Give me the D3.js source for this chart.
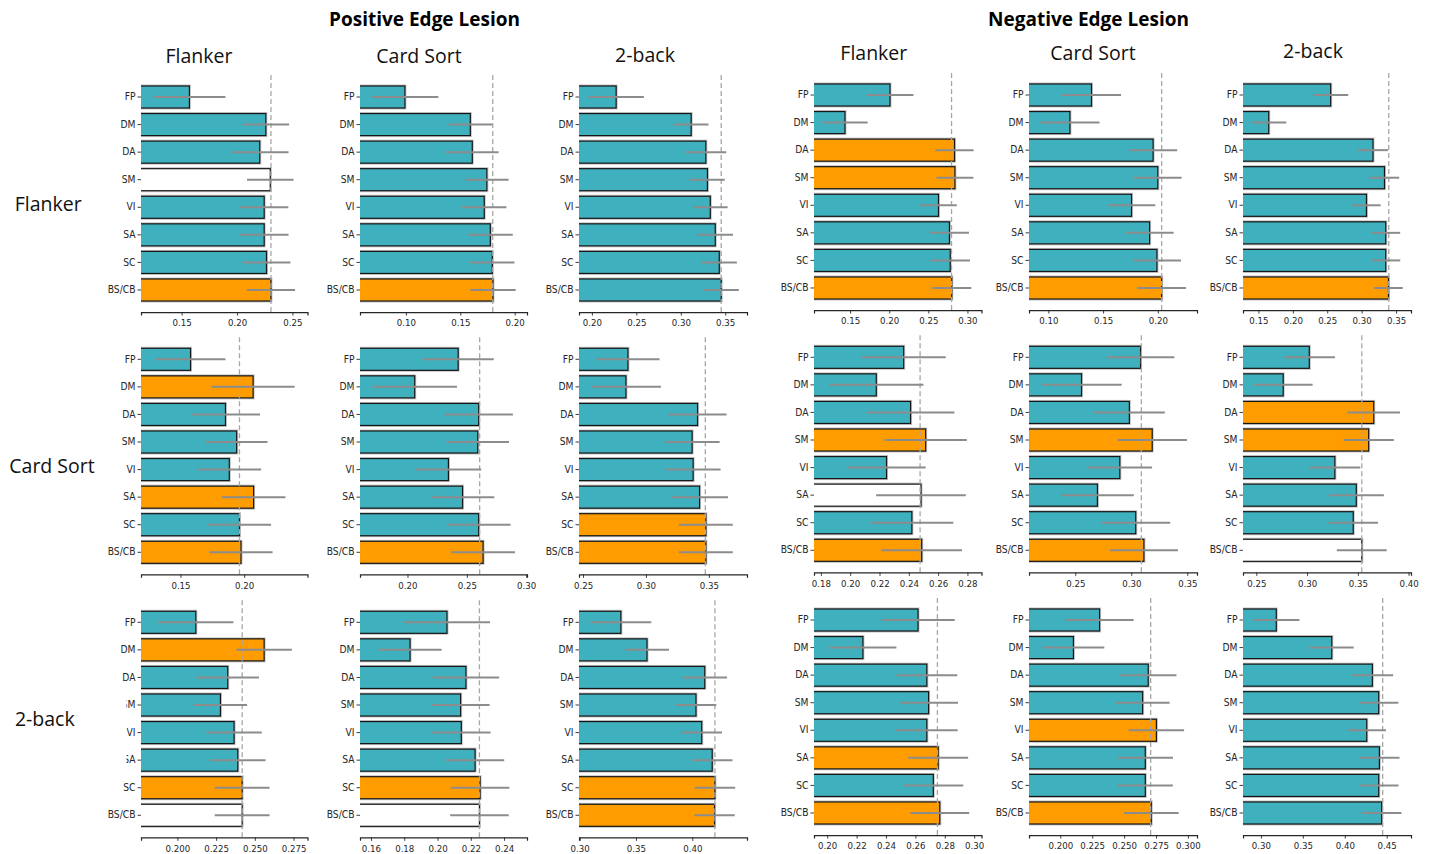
<!DOCTYPE html>
<html>
<head>
<meta charset="utf-8">
<script src="https://cdn.jsdelivr.net/npm/d3@7"></script>
<style>
  html, body { margin: 0; padding: 0; background: #fff; }
  svg { display: block; }
</style>
</head>
<body>
<svg id="chart" width="1429" height="854"></svg>
<script>
// Lesioned networks (y categories) and the three tasks (rows = trained task, columns = tested task)
const networks = ["FP", "DM", "DA", "SM", "VI", "SA", "SC", "BS/CB"];
const tasks = ["Flanker", "Card Sort", "2-back"];
const groupTitles = ["Positive Edge Lesion", "Negative Edge Lesion"];

// ---- Positive edge lesion: mean prediction accuracy per lesioned network [row][col][network]
const posMean = [
  [[0.157, 0.226, 0.2205, 0.230, 0.2245, 0.2245, 0.2266, 0.2306],
   [0.0991, 0.1592, 0.161, 0.1744, 0.172, 0.1776, 0.1794, 0.180],
   [0.2273, 0.3117, 0.3282, 0.330, 0.3332, 0.3388, 0.3433, 0.3455]],
  [[0.1579, 0.207, 0.1853, 0.1941, 0.1883, 0.2074, 0.1963, 0.1975],
   [0.2427, 0.2061, 0.2600, 0.2592, 0.2345, 0.2464, 0.2600, 0.2637],
   [0.2857, 0.2841, 0.341, 0.3367, 0.3375, 0.3426, 0.3476, 0.3476]],
  [[0.2119, 0.256, 0.2325, 0.2278, 0.2366, 0.239, 0.2418, 0.2418],
   [0.2057, 0.1835, 0.2171, 0.2139, 0.2143, 0.2226, 0.2256, 0.2252],
   [0.3366, 0.3598, 0.4111, 0.4033, 0.4084, 0.4177, 0.4201, 0.4198]]
];
// half-width of the confidence interval
const posCI = [
  [[0.0325, 0.021, 0.026, 0.021, 0.0218, 0.022, 0.0216, 0.0218],
   [0.0307, 0.020, 0.0242, 0.020, 0.0204, 0.0206, 0.0204, 0.0209],
   [0.0312, 0.0195, 0.023, 0.0195, 0.0195, 0.020, 0.0198, 0.0198]],
  [[0.0274, 0.0326, 0.0271, 0.0242, 0.025, 0.025, 0.0248, 0.0248],
   [0.030, 0.0356, 0.0288, 0.0263, 0.0276, 0.0267, 0.0269, 0.0269],
   [0.0251, 0.0278, 0.0231, 0.0218, 0.0218, 0.0226, 0.0214, 0.0214]],
  [[0.0243, 0.0179, 0.0202, 0.0172, 0.0179, 0.0179, 0.0177, 0.0177],
   [0.0259, 0.019, 0.020, 0.0174, 0.0176, 0.0175, 0.0176, 0.0176],
   [0.027, 0.0195, 0.0198, 0.018, 0.018, 0.018, 0.018, 0.0179]]
];
// bar status: T = lower than full model, O = not lower, W = equal to full model
const posStatus = [
  [["T","T","T","W","T","T","T","O"], ["T","T","T","T","T","T","T","O"], ["T","T","T","T","T","T","T","T"]],
  [["T","O","T","T","T","O","T","O"], ["T","T","T","T","T","T","T","O"], ["T","T","T","T","T","T","O","O"]],
  [["T","O","T","T","T","T","O","W"], ["T","T","T","T","T","T","O","W"], ["T","T","T","T","T","T","O","O"]]
];
// full-model accuracy (dashed reference line)
const posBaseline = [
  [0.2306, 0.1798, 0.3455],
  [0.1963, 0.2608, 0.3472],
  [0.2418, 0.2252, 0.4201]
];
const posXLim = [
  [[0.1133, 0.2636], [0.0578, 0.2113], [0.1855, 0.3745]],
  [[0.119, 0.2497], [0.160, 0.3007], [0.2468, 0.3803]],
  [[0.1765, 0.284], [0.1534, 0.2538], [0.2994, 0.4486]]
];
const posTicks = [
  [["0.15", "0.20", "0.25"], ["0.10", "0.15", "0.20"], ["0.20", "0.25", "0.30", "0.35"]],
  [["0.15", "0.20"], ["0.20", "0.25", "0.30"], ["0.25", "0.30", "0.35"]],
  [["0.200", "0.225", "0.250", "0.275"], ["0.16", "0.18", "0.20", "0.22", "0.24"], ["0.30", "0.35", "0.40"]]
];

// ---- Negative edge lesion
const negMean = [
  [[0.201, 0.1434, 0.2835, 0.284, 0.263, 0.277, 0.278, 0.280],
   [0.1394, 0.1197, 0.1957, 0.200, 0.176, 0.1925, 0.1992, 0.2035],
   [0.255, 0.165, 0.3165, 0.3332, 0.307, 0.335, 0.335, 0.339]],
  [[0.2365, 0.2178, 0.2412, 0.2515, 0.2248, 0.2483, 0.2421, 0.2488],
   [0.3083, 0.2556, 0.2983, 0.3187, 0.2898, 0.2698, 0.3040, 0.3113],
   [0.3022, 0.2765, 0.3657, 0.3607, 0.3274, 0.3485, 0.3455, 0.3539]],
  [[0.2618, 0.2243, 0.2678, 0.269, 0.2678, 0.2755, 0.2722, 0.2766],
   [0.2308, 0.2103, 0.2689, 0.2645, 0.2753, 0.2666, 0.2666, 0.2713],
   [0.3183, 0.3845, 0.4329, 0.4405, 0.4262, 0.4413, 0.4405, 0.444]]
];
const negCI = [
  [[0.030, 0.029, 0.0245, 0.0236, 0.0234, 0.025, 0.0253, 0.025],
   [0.027, 0.027, 0.022, 0.0218, 0.0217, 0.022, 0.022, 0.0222],
   [0.0255, 0.0255, 0.0217, 0.0214, 0.0205, 0.021, 0.0211, 0.0208]],
  [[0.0287, 0.0322, 0.0299, 0.0281, 0.0267, 0.0306, 0.0283, 0.0275],
   [0.0302, 0.0358, 0.0317, 0.031, 0.0288, 0.0325, 0.0308, 0.0304],
   [0.0253, 0.029, 0.0259, 0.0248, 0.025, 0.0272, 0.0244, 0.0246]],
  [[0.025, 0.0228, 0.0207, 0.020, 0.021, 0.0204, 0.0204, 0.020],
   [0.0267, 0.0242, 0.0221, 0.0212, 0.0217, 0.0217, 0.0216, 0.0214],
   [0.0276, 0.0262, 0.0248, 0.0234, 0.023, 0.024, 0.0236, 0.0236]]
];
const negStatus = [
  [["T","T","O","O","T","T","T","O"], ["T","T","T","T","T","T","T","O"], ["T","T","T","T","T","T","T","O"]],
  [["T","T","T","O","T","W","T","O"], ["T","T","T","O","T","T","T","O"], ["T","T","O","O","T","T","T","W"]],
  [["T","T","T","T","T","O","T","O"], ["T","T","T","T","O","T","T","O"], ["T","T","T","T","T","T","T","T"]]
];
const negBaseline = [
  [0.2797, 0.2035, 0.3394],
  [0.2477, 0.309, 0.3539],
  [0.275, 0.2708, 0.4452]
];
const negXLim = [
  [[0.1038, 0.318], [0.0823, 0.2358], [0.1276, 0.3717]],
  [[0.1753, 0.2896], [0.2087, 0.3587], [0.2369, 0.4024]],
  [[0.191, 0.305], [0.1755, 0.3071], [0.2786, 0.479]]
];
const negTicks = [
  [["0.15", "0.20", "0.25", "0.30"], ["0.10", "0.15", "0.20"], ["0.15", "0.20", "0.25", "0.30", "0.35"]],
  [["0.18", "0.20", "0.22", "0.24", "0.26", "0.28"], ["0.25", "0.30", "0.35"], ["0.25", "0.30", "0.35", "0.40"]],
  [["0.20", "0.22", "0.24", "0.26", "0.28", "0.30"], ["0.200", "0.225", "0.250", "0.275", "0.300"], ["0.30", "0.35", "0.40", "0.45"]]
];

// ---------------------------------------------------------------- drawing
const fillFor = { T: "#3fb0be", O: "#ff9d00", W: "#ffffff" };
const tickFont = "'DejaVu Sans', 'Liberation Sans', sans-serif";
const titleFont = "'Open Sans', 'Noto Sans', sans-serif";

const svg = d3.select("#chart");
const defs = svg.append("defs");

// panel geometry for the two halves of the figure
const layout = [
  { mean: posMean, ci: posCI, status: posStatus, base: posBaseline, xlim: posXLim, ticks: posTicks,
    left: [141, 360, 579], right: [307.5, 527, 747], firstY: [97, 359.3, 622.3],
    colTitleX: [199, 419, 645], colTitleY: [63, 63, 61.7], titleX: 424.5 },
  { mean: negMean, ci: negCI, status: negStatus, base: negBaseline, xlim: negXLim, ticks: negTicks,
    left: [814, 1029, 1243], right: [981.5, 1197, 1411], firstY: [95, 357.3, 620],
    colTitleX: [873.8, 1093, 1313], colTitleY: [60, 60, 58.3], titleX: 1088.5 }
];
const step = 27.57;

layout.forEach((G, gi) => {
  for (let r = 0; r < 3; r++) {
    for (let c = 0; c < 3; c++) {
      const L = G.left[c], R = G.right[c], fy = G.firstY[r];
      const x = d3.scaleLinear().domain(G.xlim[r][c]).range([L, R]);
      const y = d3.scaleBand().domain(networks)
        .range([fy - step / 2, fy + 7.5 * step])
        .paddingInner(0.2).paddingOuter(0.1);
      const top = fy - 0.8 * step;
      const axisY = fy + 7.8 * step;

      const clipId = `clip-${gi}-${r}-${c}`;
      defs.append("clipPath").attr("id", clipId)
        .append("rect").attr("x", L).attr("y", top - 5).attr("width", R - L + 40).attr("height", axisY - top + 5);

      const panel = svg.append("g").attr("class", "panel");
      const rows = networks.map((n, i) => ({
        n, v: G.mean[r][c][i], e: G.ci[r][c][i], s: G.status[r][c][i]
      }));

      const bars = panel.append("g").attr("clip-path", `url(#${clipId})`);
      // soft grey halo around each bar edge
      bars.selectAll("rect.halo").data(rows).join("rect").attr("class", "halo")
        .attr("x", L - 4).attr("y", d => y(d.n))
        .attr("width", d => x(d.v) - (L - 4)).attr("height", y.bandwidth())
        .attr("fill", "none").attr("stroke", "#c4c4c4").attr("stroke-width", 3);
      bars.selectAll("rect.bar").data(rows).join("rect").attr("class", "bar")
        .attr("x", L - 4).attr("y", d => y(d.n))
        .attr("width", d => x(d.v) - (L - 4)).attr("height", y.bandwidth())
        .attr("fill", d => fillFor[d.s]).attr("stroke", "#161616").attr("stroke-width", 1.2);

      // full-model reference
      panel.append("line")
        .attr("x1", x(G.base[r][c])).attr("x2", x(G.base[r][c]))
        .attr("y1", top).attr("y2", axisY)
        .attr("stroke", "#a6a6a6").attr("stroke-width", 1.3).attr("stroke-dasharray", "5,3");

      // confidence intervals
      panel.selectAll("line.err").data(rows).join("line").attr("class", "err")
        .attr("x1", d => x(d.v - d.e)).attr("x2", d => x(d.v + d.e))
        .attr("y1", d => y(d.n) + y.bandwidth() / 2).attr("y2", d => y(d.n) + y.bandwidth() / 2)
        .attr("stroke", "#8c8c8c").attr("stroke-width", 2);

      // x axis
      const labels = G.ticks[r][c];
      const xa = panel.append("g").attr("transform", `translate(0,${axisY})`)
        .attr("color", "#262626")
        .call(d3.axisBottom(x).tickValues(labels.map(Number))
          .tickFormat((d, i) => labels[i]).tickSizeOuter(0).tickSize(3.5).tickPadding(4));
      xa.select(".domain").attr("stroke-width", 1.2);
      xa.selectAll(".tick line").attr("stroke-width", 0.9);
      xa.selectAll("text").attr("font-family", tickFont).attr("font-size", 9.6)
        .attr("fill", "#262626").attr("transform", "scale(0.9,1)");

      // y axis (no spine)
      const ya = panel.append("g").attr("transform", `translate(${L},0)`)
        .attr("color", "#262626")
        .call(d3.axisLeft(y).tickSize(3.5).tickPadding(2.5));
      ya.select(".domain").remove();
      ya.selectAll(".tick line").attr("stroke-width", 0.9);
      ya.selectAll("text").attr("font-family", tickFont).attr("font-size", 10)
        .attr("fill", "#262626").attr("transform", "scale(0.92,1)");
    }
  }

  // column titles
  tasks.forEach((t, c) => {
    svg.append("text").attr("x", G.colTitleX[c]).attr("y", G.colTitleY[c])
      .attr("text-anchor", "middle").attr("font-family", titleFont)
      .attr("font-size", 19.5).attr("fill", "#111").text(t);
  });
  // group title
  svg.append("text").attr("x", G.titleX).attr("y", 25.5)
    .attr("text-anchor", "middle").attr("font-family", titleFont)
    .attr("font-weight", "bold").attr("font-size", 19).attr("fill", "#000")
    .text(groupTitles[gi]);
});

// row labels (the 2-back label sits on a white box)
const rowLabelX = [48.2, 52, 44.8];
const rowLabelY = [211, 472.7, 726];
svg.append("rect").attr("x", 0).attr("y", 686).attr("width", 126.5).attr("height", 88).attr("fill", "#fff");
tasks.forEach((t, r) => {
  svg.append("text").attr("x", rowLabelX[r]).attr("y", rowLabelY[r])
    .attr("text-anchor", "middle").attr("font-family", titleFont)
    .attr("font-size", 19.5).attr("fill", "#111").text(t);
});
</script>
</body>
</html>
